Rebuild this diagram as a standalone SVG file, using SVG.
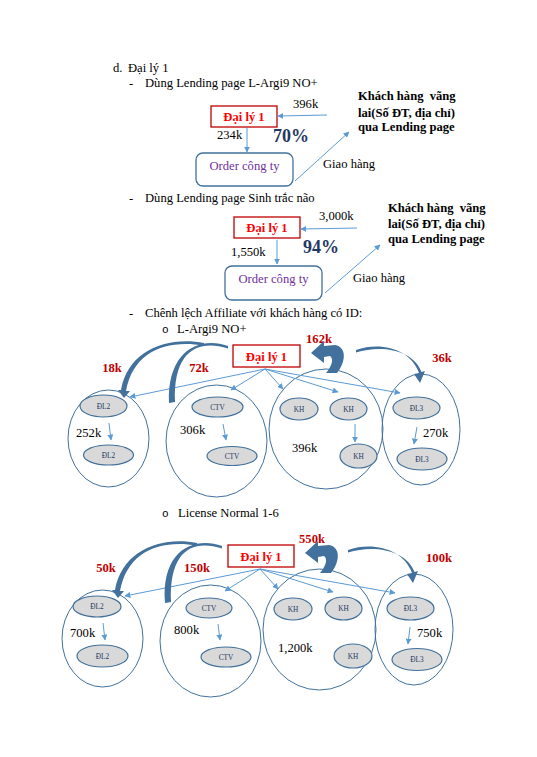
<svg xmlns="http://www.w3.org/2000/svg" width="537" height="757" viewBox="0 0 537 757">
<style>
text{font-family:"Liberation Serif","Times New Roman",serif;font-size:12.6px;fill:#000}
.b{font-weight:bold}
.red{font-weight:bold;fill:#FF0000;text-anchor:middle}
.lbl{font-weight:bold;fill:#C00000;text-anchor:middle}
.pct{font-weight:bold;font-size:18px;fill:#1F3864}
.ord{fill:#7030A0;text-anchor:middle}
.sm{font-size:7.3px;fill:#1F3864;text-anchor:middle}
.box{fill:#fff;stroke:#C00000;stroke-width:1.3}
.rr{fill:#fff;stroke:#41719C;stroke-width:1.3}
.outer{fill:none;stroke:#41719C;stroke-width:1}
.inner{fill:#D9D9D9;stroke:#41719C;stroke-width:1.2}
.ln{fill:none;stroke:#5B9BD5;stroke-width:1;marker-end:url(#ah)}
.arc{fill:#41719C;stroke:none}
.bul{font-family:"Liberation Mono","Courier New",monospace;font-size:11px}
</style>
<defs>
<marker id="ah" viewBox="0 0 10 10" refX="9" refY="5" markerWidth="6" markerHeight="6" markerUnits="userSpaceOnUse" orient="auto"><path d="M0,0 L10,5 L0,10 z" fill="#5B9BD5"/></marker>
</defs>
<rect width="537" height="757" fill="#fff"/>

<g id="headings">
<text x="113" y="72">d.</text><text x="128" y="72">Đại lý 1</text>
<text x="129" y="87">-</text><text x="145" y="87">Dùng Lending page L-Argi9 NO+</text>
<text x="129" y="202">-</text><text x="145" y="202">Dùng Lending page Sinh trắc não</text>
<text x="129" y="317">-</text><text x="145" y="317">Chênh lệch Affiliate với khách hàng có ID:</text>
<text class="bul" x="162" y="333">o</text><text x="177" y="333">L-Argi9 NO+</text>
<text class="bul" x="162" y="517">o</text><text x="178" y="517">License Normal 1-6</text>
</g>

<g id="s1-daily">
<rect class="box" x="211" y="106" width="66" height="21"/>
<text class="red" x="244" y="121">Đại lý 1</text>
</g>
<g id="s1-khach">
<text class="b" x="358" y="100">Khách hàng&#160; vãng</text>
<text class="b" x="358" y="117">lai(Số ĐT, địa chỉ)</text>
<text class="b" x="358" y="131">qua Lending page</text>
</g>
<g id="s1-order">
<rect class="rr" x="196" y="153" width="97" height="33" rx="7"/>
<text class="ord" x="244.5" y="170">Order công ty</text>
</g>
<text x="293" y="108">396k</text>
<text x="217" y="139">234k</text>
<text class="pct" x="273" y="142">70%</text>
<text x="323" y="168">Giao hàng</text>

<g id="s2-daily">
<rect class="box" x="234" y="217" width="66" height="21"/>
<text class="red" x="267" y="232">Đại lý 1</text>
</g>
<g id="s2-khach">
<text class="b" x="388" y="212">Khách hàng&#160; vãng</text>
<text class="b" x="388" y="228">lai(Số ĐT, địa chỉ)</text>
<text class="b" x="388" y="243">qua Lending page</text>
</g>
<g id="s2-order">
<rect class="rr" x="225" y="266" width="97" height="34" rx="7"/>
<text class="ord" x="273.5" y="283">Order công ty</text>
</g>
<text x="319" y="220">3,000k</text>
<text x="231" y="256">1,550k</text>
<text class="pct" x="303" y="253">94%</text>
<text x="353" y="282">Giao hàng</text>

<g id="connectors-top">
<line class="ln" x1="327" y1="115" x2="278" y2="116"/>
<line class="ln" x1="247" y1="128" x2="247" y2="152"/>
<line class="ln" x1="295" y1="181" x2="349" y2="132"/>
<line class="ln" x1="357" y1="228" x2="301" y2="229"/>
<line class="ln" x1="277" y1="240" x2="277" y2="264"/>
<line class="ln" x1="325" y1="293" x2="380" y2="245"/>
</g>

<g id="d1">
<g id="d1-e1"><ellipse class="outer" cx="108.5" cy="438.5" rx="40.5" ry="48.5"/></g>
<g id="d1-dl2a"><ellipse class="inner" cx="103.5" cy="406" rx="23.5" ry="11"/><text class="sm" x="103.5" y="408.5">ĐL2</text></g>
<g id="d1-dl2b"><ellipse class="inner" cx="108.5" cy="455" rx="25" ry="10"/><text class="sm" x="108.5" y="457.5">ĐL2</text></g>
<g id="d1-e2"><ellipse class="outer" cx="216.5" cy="441" rx="50.5" ry="56"/></g>
<g id="d1-ctva"><ellipse class="inner" cx="217.5" cy="407" rx="25.5" ry="10"/><text class="sm" x="217.5" y="409.5">CTV</text></g>
<g id="d1-ctvb"><ellipse class="inner" cx="232" cy="456" rx="25" ry="9.5"/><text class="sm" x="232" y="458.5">CTV</text></g>
<g id="d1-e3"><ellipse class="outer" cx="326" cy="429" rx="57" ry="60"/></g>
<g id="d1-kh1"><ellipse class="inner" cx="299" cy="409" rx="19" ry="11"/><text class="sm" x="299" y="411.5">KH</text></g>
<g id="d1-kh2"><ellipse class="inner" cx="348.5" cy="409" rx="18.5" ry="11"/><text class="sm" x="348.5" y="411.5">KH</text></g>
<g id="d1-kh3"><ellipse class="inner" cx="358.5" cy="456" rx="18.5" ry="12"/><text class="sm" x="358.5" y="458.5">KH</text></g>
<g id="d1-e4"><ellipse class="outer" cx="421" cy="429.5" rx="39" ry="55.5"/></g>
<g id="d1-dl3a"><ellipse class="inner" cx="416.5" cy="408" rx="23.5" ry="11"/><text class="sm" x="416.5" y="410.5">ĐL3</text></g>
<g id="d1-dl3b"><ellipse class="inner" cx="422" cy="459" rx="25" ry="11"/><text class="sm" x="422" y="461.5">ĐL3</text></g>
<g id="d1-daily"><rect class="box" x="233" y="345" width="67" height="22"/><text class="red" x="266.5" y="361">Đại lý 1</text></g>
<g id="d1-values">
<text x="76" y="437">252k</text><text x="180" y="434">306k</text><text x="292" y="452">396k</text><text x="423" y="437">270k</text>
<text class="lbl" x="112" y="372">18k</text><text class="lbl" x="199" y="372">72k</text><text class="lbl" x="319" y="343">162k</text><text class="lbl" x="442" y="362">36k</text>
</g>
<g id="d1-connectors">
<line class="ln" x1="265" y1="369" x2="130" y2="397"/>
<line class="ln" x1="265" y1="369" x2="231" y2="390"/>
<line class="ln" x1="265" y1="369" x2="283" y2="389"/>
<line class="ln" x1="265" y1="369" x2="338" y2="392"/>
<line class="ln" x1="265" y1="369" x2="400" y2="393"/>
<line class="ln" x1="109" y1="423" x2="111" y2="440"/>
<line class="ln" x1="223" y1="424" x2="226" y2="440"/>
<line class="ln" x1="355" y1="424" x2="355" y2="442"/>
<line class="ln" x1="417" y1="427" x2="414" y2="444"/>
<path class="arc" d="M204,343 C166,336 128,351 121,390 L118,390 L124,398 L130,391 L126,391 C133,352 165.5,339 204,345.5 Z"/>
<path class="arc" d="M228,346 C199,336 167,351 169,403 L175,402 C173,351 198,339 228,348.5 Z"/>
<path class="arc" d="M326,373 L337,373 C346,362 347,347 335,345 L324,346 L324,341 L311,353 L324,363 L324,357 L330,356 C334,359 332,366 326,373 Z"/>
<path class="arc" d="M356,350 C382,341 411,350 419,373 L414,374 L420,383 L425,371 L421.5,372 C414,351 383,344 356,352.5 Z"/>
</g>
</g>

<g id="d2" transform="translate(-6,200)">
<g id="d2-e1"><ellipse class="outer" cx="108.5" cy="438.5" rx="40.5" ry="48.5"/></g>
<g id="d2-dl2a"><ellipse class="inner" cx="103" cy="406.5" rx="24" ry="10.5"/><text class="sm" x="103" y="409">ĐL2</text></g>
<g id="d2-dl2b"><ellipse class="inner" cx="108.5" cy="456" rx="25.5" ry="11"/><text class="sm" x="108.5" y="458.5">ĐL2</text></g>
<g id="d2-e2"><ellipse class="outer" cx="216.5" cy="441" rx="50.5" ry="56"/></g>
<g id="d2-ctva"><ellipse class="inner" cx="215" cy="408" rx="23" ry="10"/><text class="sm" x="215" y="410.5">CTV</text></g>
<g id="d2-ctvb"><ellipse class="inner" cx="232" cy="457" rx="25" ry="10"/><text class="sm" x="232" y="459.5">CTV</text></g>
<g id="d2-e3"><ellipse class="outer" cx="325.5" cy="429.5" rx="56.5" ry="60.5"/></g>
<g id="d2-kh1"><ellipse class="inner" cx="299" cy="409" rx="19" ry="11"/><text class="sm" x="299" y="411.5">KH</text></g>
<g id="d2-kh2"><ellipse class="inner" cx="349.5" cy="408.5" rx="18.5" ry="11.5"/><text class="sm" x="349.5" y="411">KH</text></g>
<g id="d2-kh3"><ellipse class="inner" cx="359" cy="456" rx="19" ry="12"/><text class="sm" x="359" y="458.5">KH</text></g>
<g id="d2-e4"><ellipse class="outer" cx="420" cy="429.5" rx="39" ry="55.5"/></g>
<g id="d2-dl3a"><ellipse class="inner" cx="416.5" cy="408.5" rx="23.5" ry="11.5"/><text class="sm" x="416.5" y="411">ĐL3</text></g>
<g id="d2-dl3b"><ellipse class="inner" cx="423" cy="459.5" rx="25" ry="11"/><text class="sm" x="423" y="462">ĐL3</text></g>
<g id="d2-daily"><rect class="box" x="234" y="345" width="66" height="22"/><text class="red" x="267" y="361">Đại lý 1</text></g>
<g id="d2-values">
<text x="76" y="437">700k</text><text x="180" y="434">800k</text><text x="284" y="452">1,200k</text><text x="423" y="437">750k</text>
<text class="lbl" x="112" y="372">50k</text><text class="lbl" x="203" y="372">150k</text><text class="lbl" x="318" y="343">550k</text><text class="lbl" x="445" y="362">100k</text>
</g>
<g id="d2-connectors">
<line class="ln" x1="266" y1="369" x2="131" y2="396"/>
<line class="ln" x1="266" y1="369" x2="231" y2="391"/>
<line class="ln" x1="266" y1="369" x2="284" y2="389"/>
<line class="ln" x1="266" y1="369" x2="339" y2="392"/>
<line class="ln" x1="266" y1="369" x2="401" y2="393"/>
<line class="ln" x1="109" y1="423" x2="111" y2="440"/>
<line class="ln" x1="224" y1="424" x2="226" y2="440"/>
<line class="ln" x1="416" y1="427" x2="414" y2="444"/>
<path class="arc" d="M203,343 C166,336 128,351 121,390 L118,390 L124,398 L130,391 L126,391 C133,352 165.5,339 203,345.5 Z"/>
<path class="arc" d="M228,346 C199,336 167,351 171,403 L177,402 C175,351 198,339 228,348.5 Z"/>
<path class="arc" d="M326,373 L337,373 C346,362 347,347 335,345 L324,346 L324,341 L311,353 L324,363 L324,357 L330,356 C334,359 332,366 326,373 Z"/>
<path class="arc" d="M354,350 C380,341 410,350 418,373 L413,374 L419,383 L424,371 L420.5,372 C413,351 381,344 354,352.5 Z"/>
</g>
</g>
</svg>
